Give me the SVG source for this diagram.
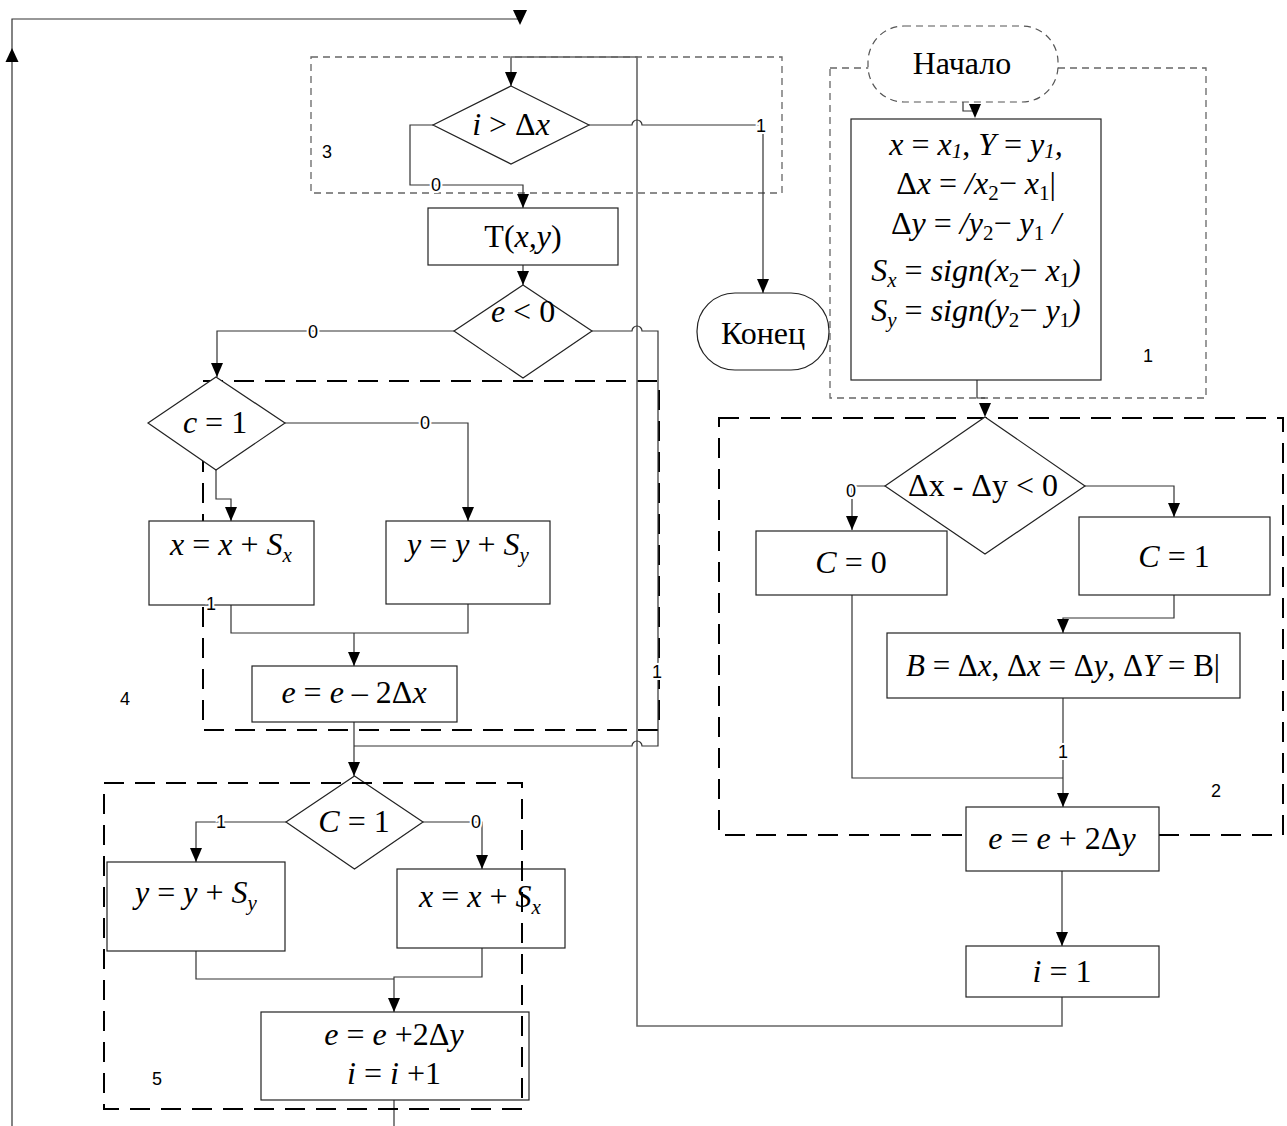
<svg xmlns="http://www.w3.org/2000/svg" width="1287" height="1126" viewBox="0 0 1287 1126">
<defs>
<marker id="ah" viewBox="0 0 14 12" refX="14" refY="6" markerWidth="14" markerHeight="12" markerUnits="userSpaceOnUse" orient="auto">
<path d="M0,0 L14,6 L0,12 z" fill="#000"/>
</marker>
<style>
.bg{fill:#fff}
.ln{fill:none;stroke:#333;stroke-width:1.2}
.lnv{fill:none;stroke:#666;stroke-width:1.6}
.nd{fill:#fff;stroke:#222;stroke-width:1.2}
.ndd{fill:#fff;stroke:#555;stroke-width:1.2;stroke-dasharray:7 5}
.ds{fill:none;stroke:#666;stroke-width:1.3;stroke-dasharray:7 5}
.dl{fill:none;stroke:#000;stroke-width:2;stroke-dasharray:20 11}
.m{font-family:"Liberation Serif","Times New Roman",serif;font-size:32px;fill:#000;text-anchor:middle}
.i{font-style:italic}
.sb{font-size:21px}
.lbl{font-family:"Liberation Sans",Arial,sans-serif;font-size:18px;fill:#000;text-anchor:middle;stroke:#fff;stroke-width:4;paint-order:stroke}
.num{font-family:"Liberation Sans",Arial,sans-serif;font-size:18px;fill:#000;text-anchor:middle}
</style>
</defs>
<rect class="bg" x="0" y="0" width="1287" height="1126"/>

<g id="groups-back">
<rect id="grp4" class="dl" x="203" y="381" width="456" height="349"/>
<rect id="grp2" class="dl" x="719" y="418" width="564" height="417"/>
<rect id="grp1" class="ds" x="830" y="68" width="376" height="330"/>
<rect id="grp3" class="ds" x="311" y="57" width="471" height="136"/>
</g>

<g id="connectors">
<path class="ln" d="M12,1126 V19 H520"/>
<polygon points="5.5,62 18.5,62 12,48" fill="#000"/>
<polygon points="513,10 527,10 520,25" fill="#000"/>
<path class="lnv" d="M1062,997 V1026 H637 V57 H511 V86" marker-end="url(#ah)"/>
<path class="ln" d="M433,125 H410 V185 H523 V208" marker-end="url(#ah)"/>
<path class="ln" d="M589,125 H632 A5,5 0 0 1 642,125 H763 V293" marker-end="url(#ah)"/>
<path class="ln" d="M523,265 V285" marker-end="url(#ah)"/>
<path class="ln" d="M454,331 H217 V377" marker-end="url(#ah)"/>
<path class="ln" d="M592,331 H632 A5,5 0 0 1 642,331 H658 V746 H642 A5,5 0 0 0 632,746 H354"/>
<path class="ln" d="M216,470 V499 H231 V521" marker-end="url(#ah)"/>
<path class="ln" d="M285,423 H468 V521" marker-end="url(#ah)"/>
<path class="ln" d="M231,605 V633 H468 V604"/>
<path class="ln" d="M354,633 V666" marker-end="url(#ah)"/>
<path class="ln" d="M354,722 V776" marker-end="url(#ah)"/>
<path class="ln" d="M286,822 H196 V862" marker-end="url(#ah)"/>
<path class="ln" d="M423,822 H482 V869" marker-end="url(#ah)"/>
<path class="ln" d="M196,951 V979 H394"/>
<path class="ln" d="M482,948 V977 H394 V1012" marker-end="url(#ah)"/>
<path class="ln" d="M394,1100 V1126"/>
<path class="ln" d="M963,102 V111 H975"/>
<polygon points="969,104 981,104 975,118" fill="#000"/>
<path class="ln" d="M977,380 V398 H985"/>
<polygon points="979,403 991,403 985,417" fill="#000"/>
<path class="ln" d="M885,486 H852 V530" marker-end="url(#ah)"/>
<path class="ln" d="M1085,486 H1174 V517" marker-end="url(#ah)"/>
<path class="ln" d="M1174,595 V618 H1063 V633" marker-end="url(#ah)"/>
<path class="ln" d="M852,595 V778 H1063"/>
<path class="ln" d="M1063,698 V807" marker-end="url(#ah)"/>
<path class="ln" d="M1062,871 V946" marker-end="url(#ah)"/>
</g>

<g id="n-start">
<rect class="ndd" x="868" y="26" width="190" height="76" rx="36" ry="36"/>
<text class="m" x="962" y="74">Начало</text>
</g>
<g id="n-init">
<rect class="nd" x="851" y="119" width="250" height="261"/>
<text class="m" x="976" y="155"><tspan class="i">x</tspan> = <tspan class="i">x</tspan><tspan class="i sb" dy="3">1</tspan><tspan dy="-3">, </tspan><tspan class="i">Y</tspan> = <tspan class="i">y</tspan><tspan class="i sb" dy="3">1</tspan><tspan class="i" dy="-3">,</tspan></text>
<text class="m" x="976" y="194">Δ<tspan class="i">x</tspan> = <tspan class="i">/x</tspan><tspan class="sb" dy="6">2</tspan><tspan dy="-6">− </tspan><tspan class="i">x</tspan><tspan class="sb" dy="6">1</tspan><tspan dy="-6">|</tspan></text>
<text class="m" x="976" y="234">Δ<tspan class="i">y</tspan> = <tspan class="i">/y</tspan><tspan class="sb" dy="6">2</tspan><tspan dy="-6">− </tspan><tspan class="i">y</tspan><tspan class="sb" dy="6">1</tspan><tspan class="i" dy="-6"> /</tspan></text>
<text class="m" x="976" y="281"><tspan class="i">S</tspan><tspan class="i sb" dy="6">x</tspan><tspan dy="-6"> = </tspan><tspan class="i">sign(x</tspan><tspan class="sb" dy="6">2</tspan><tspan dy="-6">− </tspan><tspan class="i">x</tspan><tspan class="sb" dy="6">1</tspan><tspan class="i" dy="-6">)</tspan></text>
<text class="m" x="976" y="321"><tspan class="i">S</tspan><tspan class="i sb" dy="6">y</tspan><tspan dy="-6"> = </tspan><tspan class="i">sign(y</tspan><tspan class="sb" dy="6">2</tspan><tspan dy="-6">− </tspan><tspan class="i">y</tspan><tspan class="sb" dy="6">1</tspan><tspan class="i" dy="-6">)</tspan></text>
</g>
<g id="n-cmp">
<polygon class="nd" points="985,417 1085,486 985,554 885,486"/>
<text class="m" x="983" y="496">Δx - Δy &lt; 0</text>
</g>
<g id="n-c0">
<rect class="nd" x="756" y="531" width="191" height="64"/>
<text class="m" x="851" y="573"><tspan class="i">C</tspan> = 0</text>
</g>
<g id="n-c1">
<rect class="nd" x="1079" y="517" width="191" height="78"/>
<text class="m" x="1174" y="567"><tspan class="i">C</tspan> = 1</text>
</g>
<g id="n-swap">
<rect class="nd" x="887" y="633" width="353" height="65"/>
<text class="m" x="1063" y="676" style="font-size:31px"><tspan class="i">B</tspan> = Δ<tspan class="i">x</tspan>, Δ<tspan class="i">x</tspan> = Δ<tspan class="i">y</tspan>, Δ<tspan class="i">Y</tspan> = B|</text>
</g>
<g id="n-einit">
<rect class="nd" x="966" y="807" width="193" height="64"/>
<text class="m" x="1062" y="849"><tspan class="i">e</tspan> = <tspan class="i">e</tspan> + 2Δ<tspan class="i">y</tspan></text>
</g>
<g id="n-i1">
<rect class="nd" x="966" y="946" width="193" height="51"/>
<text class="m" x="1062" y="982"><tspan class="i">i</tspan> = 1</text>
</g>
<g id="n-end">
<rect class="nd" x="697" y="293" width="132" height="77" rx="38" ry="38"/>
<text class="m" x="763" y="344">Конец</text>
</g>
<g id="n-test">
<polygon class="nd" points="511,86 589,125 511,164 433,125"/>
<text class="m" x="511" y="135"><tspan class="i">i</tspan> &gt; Δ<tspan class="i">x</tspan></text>
</g>
<g id="n-plot">
<rect class="nd" x="428" y="208" width="190" height="57"/>
<text class="m" x="523" y="247">T(<tspan class="i">x,y</tspan>)</text>
</g>
<g id="n-eneg">
<polygon class="nd" points="523,285 592,331 523,378 454,331"/>
<text class="m" x="523" y="322"><tspan class="i">e</tspan> &lt; 0</text>
</g>
<g id="n-c-test">
<polygon class="nd" points="216,377 285,423 216,470 148,423"/>
<text class="m" x="215" y="433"><tspan class="i">c</tspan> = 1</text>
</g>
<g id="n-x4">
<rect class="nd" x="149" y="521" width="165" height="84"/>
<text class="m" x="231" y="555"><tspan class="i">x</tspan> = <tspan class="i">x</tspan> + <tspan class="i">S</tspan><tspan class="i sb" dy="7">x</tspan></text>
</g>
<g id="n-y4">
<rect class="nd" x="386" y="521" width="164" height="83"/>
<text class="m" x="468" y="555"><tspan class="i">y</tspan> = <tspan class="i">y</tspan> + <tspan class="i">S</tspan><tspan class="i sb" dy="7">y</tspan></text>
</g>
<g id="n-e4">
<rect class="nd" x="252" y="666" width="205" height="56"/>
<text class="m" x="354" y="703"><tspan class="i">e</tspan> = <tspan class="i">e</tspan> – 2Δ<tspan class="i">x</tspan></text>
</g>
<g id="n-C-test">
<polygon class="nd" points="354.5,776 423,822 354.5,869 286,822"/>
<text class="m" x="354" y="832"><tspan class="i">C</tspan> = 1</text>
</g>
<g id="n-y5">
<rect class="nd" x="107" y="862" width="178" height="89"/>
<text class="m" x="196" y="903"><tspan class="i">y</tspan> = <tspan class="i">y</tspan> + <tspan class="i">S</tspan><tspan class="i sb" dy="7">y</tspan></text>
</g>
<g id="n-x5">
<rect class="nd" x="397" y="869" width="168" height="79"/>
<text class="m" x="480" y="907"><tspan class="i">x</tspan> = <tspan class="i">x</tspan> + <tspan class="i">S</tspan><tspan class="i sb" dy="7">x</tspan></text>
</g>
<g id="n-e5">
<rect class="nd" x="261" y="1012" width="268" height="88"/>
<text class="m" x="394" y="1045"><tspan class="i">e</tspan> = <tspan class="i">e</tspan> +2Δ<tspan class="i">y</tspan></text>
<text class="m" x="394" y="1084"><tspan class="i">i</tspan> = <tspan class="i">i</tspan> +1</text>
</g>

<g id="groups-front">
<rect id="grp5" class="dl" x="104" y="783" width="418" height="326"/>
</g>

<g id="labels">
<text class="num" x="327" y="158">3</text>
<text class="lbl" x="436" y="191">0</text>
<text class="lbl" x="761" y="132">1</text>
<text class="lbl" x="313" y="338">0</text>
<text class="lbl" x="425" y="429">0</text>
<text class="lbl" x="211" y="610">1</text>
<text class="lbl" x="657" y="678">1</text>
<text class="num" x="125" y="705">4</text>
<text class="lbl" x="221" y="828">1</text>
<text class="lbl" x="476" y="828">0</text>
<text class="num" x="157" y="1085">5</text>
<text class="num" x="1148" y="362">1</text>
<text class="lbl" x="851" y="497">0</text>
<text class="lbl" x="1063" y="758">1</text>
<text class="num" x="1216" y="797">2</text>
</g>
</svg>
